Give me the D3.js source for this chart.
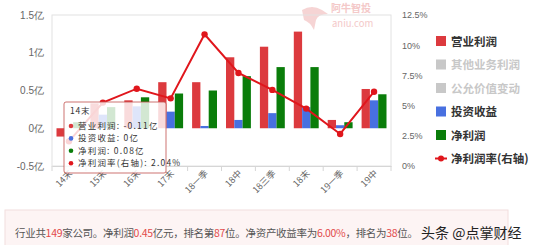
<!DOCTYPE html>
<html>
<head>
<meta charset="utf-8">
<script src="https://cdn.jsdelivr.net/npm/d3@7"></script>
<style>
  body { margin: 0; background: #fff; }
  svg { display: block; font-family: "Noto Sans CJK SC", "Noto Sans", sans-serif; }
</style>
</head>
<body>
<svg width="558" height="245"></svg>
<script>
// data
const categories = ["14末", "15末", "16末", "17末", "18一季", "18中", "18三季", "18末", "19一季", "19中"];
const opProfit = [-0.11, 0.33, 0.37, 0.61, 0.61, 0.94, 1.08, 1.28, 0.11, 0.52];
const investIncome = [0, 0.18, 0.29, 0.22, 0.03, 0.11, 0.2, 0.28, 0.04, 0.37];
const netProfit = [0.08, 0.28, 0.41, 0.46, 0.5, 0.69, 0.81, 0.81, 0.08, 0.45];
const netMargin = [2.04, 5.25, 6.4, 5.6, 10.9, 7.7, 6.3, 4.75, 2.65, 6.15];
const leftTicks = [-0.5, 0, 0.5, 1, 1.5];
const rightTicks = [0, 2.5, 5, 7.5, 10, 12.5];
const legendNames = ["营业利润", "其他业务利润", "公允价值变动", "投资收益", "净利润", "净利润率(右轴)"];

const RED = "#dc3a3e", BLUE = "#4870e0", GREEN = "#0a7d0a", LINE = "#e0161c", GREY = "#c8c8c8";

const svg = d3.select("svg");
const pLeft = 52, pRight = 391, pTop = 15, pBottom = 166;

const x = d3.scaleBand().domain(categories).range([pLeft, pRight]);
const series = ["op", "inv", "net"];
const x1 = d3.scaleBand().domain(series).range([4.5, x.bandwidth() - 4.5]);
const yL = d3.scaleLinear().domain([-0.5, 1.5]).range([pBottom, pTop]);
const yR = d3.scaleLinear().domain([0, 12.5]).range([pBottom, pTop]);

// watermark
const wm = svg.append("g").attr("fill", "#f4c9c9");
wm.append("text").attr("x", 331).attr("y", 12).attr("font-size", 10).attr("font-weight", "bold").text("阿牛智投");
wm.append("text").attr("x", 332).attr("y", 27).attr("font-size", 9.5).text("aniu.com");
wm.append("path").attr("d", "M302 10 Q312 4 322 10 L328 14 Q318 14 316 20 L314 30 Q310 22 304 20 Z").attr("opacity", 0.8);

// frame
svg.append("rect").attr("x", pLeft).attr("y", pTop).attr("width", pRight - pLeft).attr("height", pBottom - pTop)
  .attr("fill", "none").attr("stroke", "#e2e2e2");

// axes
const gx = svg.append("g").attr("transform", `translate(0,${pBottom})`)
  .call(d3.axisBottom(x).tickSize(0).tickFormat(""));
gx.select(".domain").attr("stroke", "#d6d6d6");
svg.append("g").selectAll("line").data(d3.range(categories.length + 1)).join("line")
  .attr("x1", i => pLeft + i * x.bandwidth()).attr("x2", i => pLeft + i * x.bandwidth())
  .attr("y1", pBottom).attr("y2", pBottom + 5).attr("stroke", "#d6d6d6");
svg.append("g").selectAll("text").data(categories).join("text")
  .attr("transform", d => `translate(${x(d) + x.bandwidth() / 2 + 4},${pBottom + 8}) rotate(-45)`)
  .attr("text-anchor", "end").attr("font-size", 9).attr("fill", "#666").text(d => d);

const gl = svg.append("g").attr("transform", `translate(${pLeft},0)`)
  .call(d3.axisLeft(yL).tickValues(leftTicks).tickSize(0).tickPadding(8).tickFormat(d => d + "亿"));
gl.select(".domain").remove();
gl.selectAll("text").attr("font-size", 10).attr("fill", "#666").attr("font-family", null);

const gr = svg.append("g").attr("transform", `translate(${pRight},0)`)
  .call(d3.axisRight(yR).tickValues(rightTicks).tickSize(0).tickPadding(11).tickFormat(d => d + "%"));
gr.select(".domain").remove();
gr.selectAll("text").attr("font-size", 9).attr("fill", "#666").attr("font-family", null);

// bars
const rows = categories.map((c, i) => ({ c, op: opProfit[i], inv: investIncome[i], net: netProfit[i] }));
const colors = { op: RED, inv: BLUE, net: GREEN };
svg.append("g").selectAll("g").data(rows).join("g")
  .attr("transform", d => `translate(${x(d.c)},0)`)
  .selectAll("rect").data(d => series.map(k => ({ k, v: d[k] }))).join("rect")
  .attr("x", d => x1(d.k)).attr("width", x1.bandwidth())
  .attr("y", d => yL(Math.max(0, d.v))).attr("height", d => Math.abs(yL(d.v) - yL(0)))
  .attr("fill", d => colors[d.k]);

// net margin line
const line = d3.line().x((d, i) => x(categories[i]) + x.bandwidth() / 2).y(d => yR(d));
svg.append("path").datum(netMargin).attr("d", line).attr("fill", "none").attr("stroke", LINE).attr("stroke-width", 2);
svg.append("g").selectAll("circle").data(netMargin).join("circle")
  .attr("cx", (d, i) => x(categories[i]) + x.bandwidth() / 2).attr("cy", d => yR(d)).attr("r", 3.2).attr("fill", LINE);

// legend
const legColors = [RED, GREY, GREY, BLUE, GREEN, LINE];
const leg = svg.append("g").attr("transform", "translate(436,0)");
legendNames.forEach((n, i) => {
  const yy = 41 + i * 23.5;
  if (i < 5) {
    leg.append("rect").attr("x", 0).attr("y", yy - 5).attr("width", 10).attr("height", 10).attr("fill", legColors[i]);
  } else {
    leg.append("line").attr("x1", -1).attr("x2", 11).attr("y1", yy).attr("y2", yy).attr("stroke", LINE).attr("stroke-width", 2);
    leg.append("circle").attr("cx", 5).attr("cy", yy).attr("r", 3).attr("fill", LINE);
  }
  leg.append("text").attr("x", 15).attr("y", yy + 4.5).attr("font-size", 11.5).attr("font-weight", "bold")
    .attr("fill", (i === 1 || i === 2) ? GREY : "#333").text(n);
});

// tooltip for 14末
const tip = svg.append("g").attr("transform", "translate(64,102)");
tip.append("rect").attr("width", 102).attr("height", 71).attr("rx", 2)
  .attr("fill", "#fff").attr("fill-opacity", 0.82).attr("stroke", "#c0504d").attr("stroke-opacity", 0.8);
tip.append("text").attr("x", 6).attr("y", 12).attr("font-size", 8.5).attr("letter-spacing", 0.8)
  .attr("fill", "#333").text(categories[0]);
const tipRows = [
  [RED, "营业利润: " + opProfit[0] + "亿"],
  [BLUE, "投资收益: " + investIncome[0] + "亿"],
  [GREEN, "净利润: " + netProfit[0] + "亿"],
  [LINE, "净利润率(右轴): " + netMargin[0].toFixed(2) + "%"]
];
tipRows.forEach((r, i) => {
  const yy = 24 + i * 12.4;
  tip.append("circle").attr("cx", 7).attr("cy", yy).attr("r", 2.3).attr("fill", r[0]);
  tip.append("text").attr("x", 14).attr("y", yy + 3).attr("font-size", 8.5).attr("letter-spacing", 1.2)
    .attr("fill", "#333").text(r[1]);
});

// summary box
svg.append("rect").attr("x", 5).attr("y", 210).attr("width", 503).attr("height", 40)
  .attr("fill", "#fdf4f4").attr("stroke", "#f2dede");
const parts = [["行业共", 0], ["149", 1], ["家公司。净利润", 0], ["0.45", 1], ["亿元，排名第", 0], ["87", 1],
  ["位。净资产收益率为", 0], ["6.00%", 1], ["，排名为", 0], ["38", 1], ["位。", 0]];
const sum = svg.append("text").attr("x", 15).attr("y", 237).attr("font-size", 10.5).attr("letter-spacing", -0.3);
parts.forEach(p => sum.append("tspan").attr("fill", p[1] ? "#e24a4a" : "#555").text(p[0]));
svg.append("text").attr("x", 421).attr("y", 238).attr("font-size", 14).attr("fill", "#222").text("头条 @点掌财经");
</script>
</body>
</html>
